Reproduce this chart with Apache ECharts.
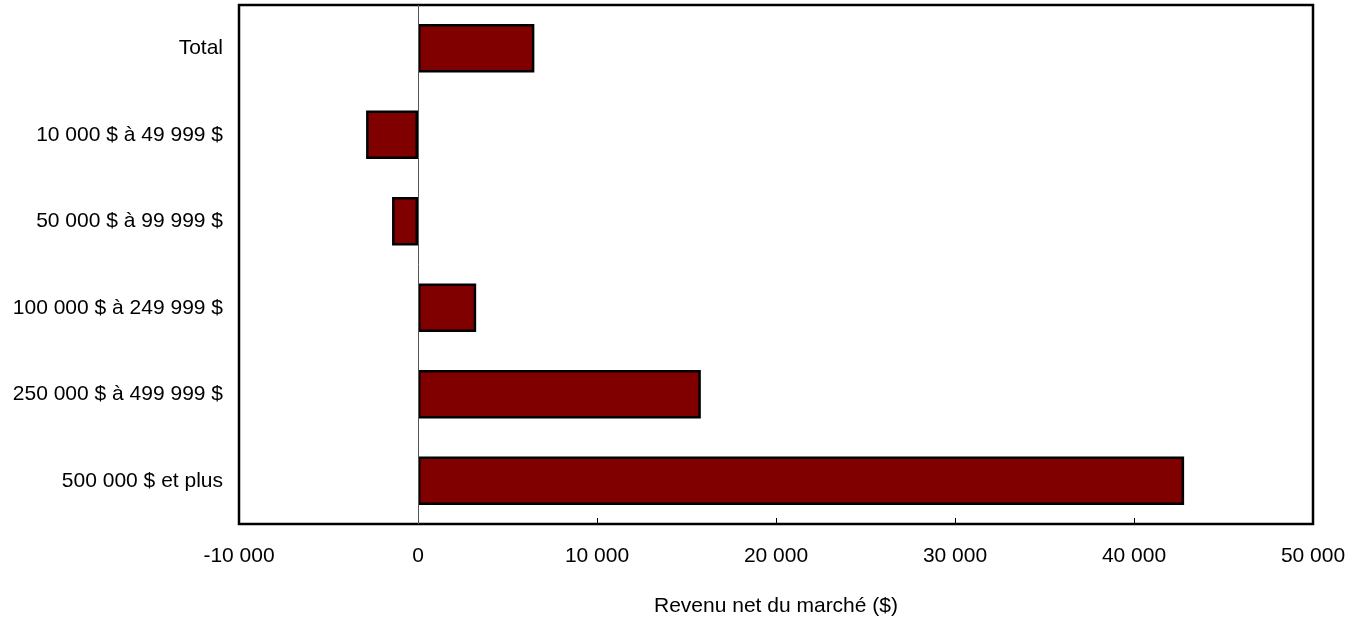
<!DOCTYPE html>
<html>
<head>
<meta charset="utf-8">
<script src="https://cdn.jsdelivr.net/npm/echarts@6/dist/echarts.min.js"></script>
<style>html,body{margin:0;padding:0;background:#fff;}#c{width:1361px;height:619px;}</style>
</head>
<body>
<div id="c"></div>
<script>
const categories = ["Total", "10 000 $ à 49 999 $", "50 000 $ à 99 999 $", "100 000 $ à 249 999 $", "250 000 $ à 499 999 $", "500 000 $ et plus"];
const values = [6500, -2900, -1450, 3250, 15800, 42800];
const xTicks = { min: -10000, max: 50000, interval: 10000 };
const axisTitle = "Revenu net du marché ($)";

function fmt(v) {
  const s = Math.abs(v).toString().replace(/\B(?=(\d{3})+(?!\d))/g, " ");
  return (v < 0 ? "-" : "") + s;
}

const chart = echarts.init(document.getElementById('c'));
chart.setOption({
  backgroundColor: '#fff',
  animation: false,
  textStyle: { fontFamily: 'Liberation Sans, Arial, sans-serif' },
  grid: { left: 239, right: 48, top: 5, bottom: 95, containLabel: false, outerBoundsMode: 'none',
          show: true, borderColor: '#000', borderWidth: 2.5, backgroundColor: '#fff' },
  xAxis: {
    type: 'value', min: xTicks.min, max: xTicks.max, interval: xTicks.interval,
    axisLine: { show: false },
    axisTick: { show: true, inside: true, length: 6, lineStyle: { color: '#000', width: 1 } },
    splitLine: { show: false },
    axisLabel: { color: '#000', fontSize: 21, margin: 22, formatter: fmt, fontFamily: 'Liberation Sans' },
    name: axisTitle, nameLocation: 'middle', nameGap: 72,
    nameTextStyle: { color: '#000', fontSize: 21, fontFamily: 'Liberation Sans' }
  },
  yAxis: {
    type: 'category', data: categories, inverse: true,
    axisLine: { show: false }, axisTick: { show: false }, splitLine: { show: false },
    axisLabel: { color: '#000', fontSize: 21, margin: 16, fontFamily: 'Liberation Sans' }
  },
  series: [{
    type: 'bar', data: values, barWidth: '56%',
    itemStyle: { color: '#800000', borderColor: '#000', borderWidth: 2.5 },
    markLine: {
      silent: true, symbol: 'none', label: { show: false },
      lineStyle: { color: '#555', width: 1, type: 'solid' },
      data: [{ xAxis: 0 }]
    },
    z: 3
  }]
});
</script>
</body>
</html>
